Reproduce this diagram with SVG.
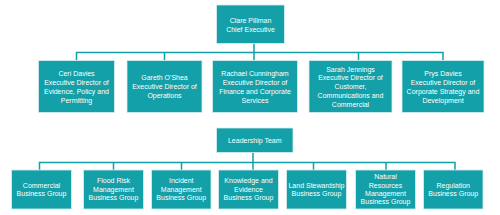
<svg xmlns="http://www.w3.org/2000/svg" width="500" height="215" viewBox="0 0 500 215">
<style>
.box{fill:#13a0a8;stroke:#d8eeee;stroke-width:0.8}
.t{font-family:"Liberation Sans",Arial,sans-serif;font-size:7px;fill:#ffffff;text-anchor:middle}
.c{fill:none;stroke:#13a0a8;stroke-width:1.5}
</style>
<rect width="500" height="215" fill="#ffffff"/>
<g id="connectors">
<path class="c" d="M254,43.5 V52.5 M76.5,60.5 V52.5 H443 V60.5 M164.5,52.5 V60.5 M254,52.5 V60.5 M358.5,52.5 V60.5"/>
<path class="c" d="M253,152.5 V170 M39.5,170 V162.5 H455 V170 M113.5,162.5 V170 M181.5,162.5 V170 M313.5,162.5 V170 M386,162.5 V170"/>
</g>
<g id="ceo">
<rect class="box" x="216.5" y="5" width="68" height="38.5"/>
<text class="t" y="22.7"><tspan x="250.5">Clare Pillman</tspan><tspan x="250.5" dy="9">Chief Executive</tspan></text>
</g>
<g id="ceri">
<rect class="box" x="38.5" y="60.5" width="76" height="52"/>
<text class="t" y="76.4"><tspan x="76.5">Ceri Davies</tspan><tspan x="76.5" dy="8.8">Executive Director of</tspan><tspan x="76.5" dy="8.8">Evidence, Policy and</tspan><tspan x="76.5" dy="8.8">Permitting</tspan></text>
</g>
<g id="gareth">
<rect class="box" x="127" y="60.5" width="75" height="52"/>
<text class="t" y="80.1"><tspan x="164.5">Gareth O'Shea</tspan><tspan x="164.5" dy="9">Executive Director of</tspan><tspan x="164.5" dy="9">Operations</tspan></text>
</g>
<g id="rachael">
<rect class="box" x="212.5" y="60.5" width="85" height="52"/>
<text class="t" y="76.4"><tspan x="255">Rachael Cunningham</tspan><tspan x="255" dy="8.8">Executive Director of</tspan><tspan x="255" dy="8.8">Finance and Corporate</tspan><tspan x="255" dy="8.8">Services</tspan></text>
</g>
<g id="sarah">
<rect class="box" x="309" y="60.5" width="83" height="52"/>
<text class="t" y="71.5"><tspan x="350.5">Sarah Jennings</tspan><tspan x="350.5" dy="8.8">Executive Director of</tspan><tspan x="350.5" dy="8.8">Customer,</tspan><tspan x="350.5" dy="8.8">Communications and</tspan><tspan x="350.5" dy="8.8">Commercial</tspan></text>
</g>
<g id="prys">
<rect class="box" x="402" y="60.5" width="82" height="52"/>
<text class="t" y="76.4"><tspan x="443">Prys Davies</tspan><tspan x="443" dy="8.8">Executive Director of</tspan><tspan x="443" dy="8.8">Corporate Strategy and</tspan><tspan x="443" dy="8.8">Development</tspan></text>
</g>
<g id="leadership">
<rect class="box" x="216.5" y="128" width="76.5" height="24.5"/>
<text class="t" x="254.75" y="142.7">Leadership Team</text>
</g>
<g id="commercial">
<rect class="box" x="11.5" y="170" width="60" height="39"/>
<text class="t" y="187.7"><tspan x="41.5">Commercial</tspan><tspan x="41.5" dy="8.6">Business Group</tspan></text>
</g>
<g id="flood">
<rect class="box" x="83.5" y="170" width="60" height="39"/>
<text class="t" y="183.4"><tspan x="113.5">Flood Risk</tspan><tspan x="113.5" dy="8.3">Management</tspan><tspan x="113.5" dy="8.3">Business Group</tspan></text>
</g>
<g id="incident">
<rect class="box" x="151.5" y="170" width="59.5" height="39"/>
<text class="t" y="183.4"><tspan x="181.25">Incident</tspan><tspan x="181.25" dy="8.3">Management</tspan><tspan x="181.25" dy="8.3">Business Group</tspan></text>
</g>
<g id="knowledge">
<rect class="box" x="218.5" y="170" width="60" height="39"/>
<text class="t" y="183.4"><tspan x="248.5">Knowledge and</tspan><tspan x="248.5" dy="8.3">Evidence</tspan><tspan x="248.5" dy="8.3">Business Group</tspan></text>
</g>
<g id="land">
<rect class="box" x="286.5" y="170" width="60" height="39"/>
<text class="t" y="187.7"><tspan x="316.5">Land Stewardship</tspan><tspan x="316.5" dy="8.6">Business Group</tspan></text>
</g>
<g id="natural">
<rect class="box" x="355.5" y="170" width="60" height="39"/>
<text class="t" y="179.2"><tspan x="385.5">Natural</tspan><tspan x="385.5" dy="8.3">Resources</tspan><tspan x="385.5" dy="8.3">Management</tspan><tspan x="385.5" dy="8.3">Business Group</tspan></text>
</g>
<g id="regulation">
<rect class="box" x="423.5" y="170" width="59.5" height="39"/>
<text class="t" y="187.7"><tspan x="453.25">Regulation</tspan><tspan x="453.25" dy="8.6">Business Group</tspan></text>
</g>
</svg>
